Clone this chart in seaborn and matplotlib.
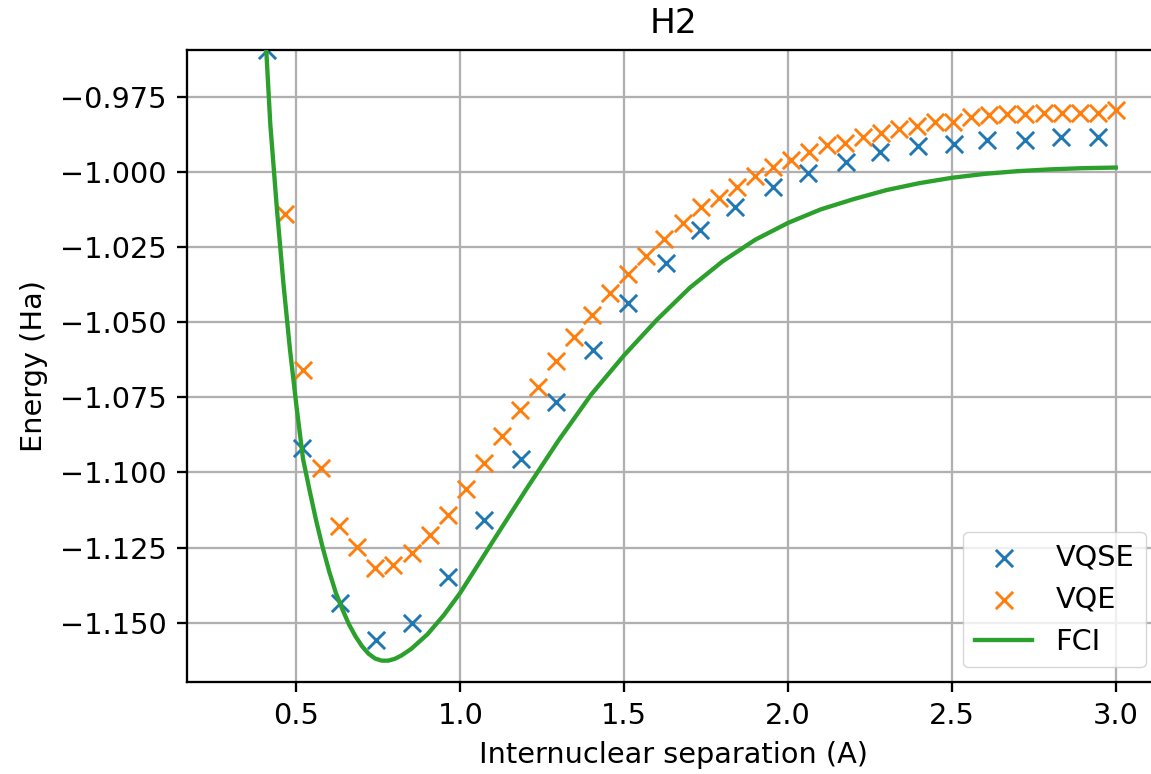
import matplotlib
matplotlib.use("Agg")
import matplotlib.pyplot as plt
import seaborn as sns
import pandas as pd

# ---------------- data ----------------
vqse_x = [0.410, 0.518, 0.634, 0.742, 0.854, 0.963, 1.072, 1.184, 1.291, 1.405,
          1.512, 1.627, 1.731, 1.838, 1.954, 2.061, 2.176, 2.280, 2.397, 2.505,
          2.607, 2.722, 2.832, 2.947]
vqse_y = [-0.9596, -1.0920, -1.1433, -1.1557, -1.1500, -1.1347, -1.1158, -1.0956,
          -1.0765, -1.0593, -1.0435, -1.0302, -1.0194, -1.0118, -1.0049, -1.0003,
          -0.9966, -0.9933, -0.9914, -0.9907, -0.9893, -0.9893, -0.9885, -0.9883]

vqe_x = [0.465, 0.520, 0.576, 0.631, 0.686, 0.741, 0.796, 0.851, 0.906, 0.961,
         1.016, 1.071, 1.127, 1.182, 1.237, 1.292, 1.347, 1.402, 1.457, 1.512,
         1.567, 1.622, 1.678, 1.733, 1.788, 1.843, 1.898, 1.953, 2.008, 2.063,
         2.118, 2.173, 2.229, 2.284, 2.339, 2.394, 2.449, 2.504, 2.559, 2.614,
         2.669, 2.724, 2.780, 2.835, 2.890, 2.945, 3.000]
vqe_y = [-1.0142, -1.0659, -1.0986, -1.1177, -1.1247, -1.1319, -1.1308, -1.1269,
         -1.1208, -1.1140, -1.1055, -1.0969, -1.0879, -1.0792, -1.0715, -1.0629,
         -1.0548, -1.0476, -1.0404, -1.0340, -1.0280, -1.0224, -1.0169, -1.0118,
         -1.0088, -1.0049, -1.0014, -0.9985, -0.9961, -0.9933, -0.9911, -0.9903,
         -0.9883, -0.9872, -0.9858, -0.9847, -0.9836, -0.9834, -0.9818, -0.9812,
         -0.9807, -0.9807, -0.9804, -0.9806, -0.9806, -0.9806, -0.9793]

fci_x = [0.40, 0.42, 0.44, 0.46, 0.48, 0.50, 0.52, 0.54, 0.56, 0.58,
         0.60, 0.62, 0.64, 0.66, 0.68, 0.70, 0.72, 0.74, 0.76, 0.78,
         0.80, 0.82, 0.85, 0.90, 0.95, 1.00, 1.10, 1.20, 1.30, 1.40,
         1.50, 1.60, 1.70, 1.80, 1.90, 2.00, 2.10, 2.20, 2.30, 2.40,
         2.50, 2.60, 2.70, 2.80, 2.90, 3.00]
fci_y = [-0.9440, -0.9840, -1.0120, -1.0370, -1.0590, -1.0780, -1.0955, -1.1060,
         -1.1160, -1.1250, -1.1330, -1.1400, -1.1455, -1.1505, -1.1545, -1.1578,
         -1.1603, -1.1619, -1.1626, -1.1626, -1.1620, -1.1609, -1.1587, -1.1538,
         -1.1474, -1.1400, -1.1228, -1.1058, -1.0893, -1.0740, -1.0610, -1.0492,
         -1.0386, -1.0298, -1.0226, -1.0170, -1.0125, -1.0091, -1.0061, -1.0038,
         -1.0020, -1.0007, -0.9998, -0.9992, -0.9988, -0.9986]

series_labels = ["VQSE", "VQE", "FCI"]
title = "H2"
xlabel = "Internuclear separation (A)"
ylabel = "Energy (Ha)"
xticks = [0.5, 1.0, 1.5, 2.0, 2.5, 3.0]
yticks = [-0.975, -1.000, -1.025, -1.050, -1.075, -1.100, -1.125, -1.150]

# ---------------- style ----------------
k = 2.07  # scale relative to matplotlib defaults
plt.rcParams.update({
    "font.family": ["DejaVu Sans"],
    "font.size": 10 * k,
    "axes.titlesize": 12 * k,
    "axes.labelsize": 10 * k,
    "xtick.labelsize": 10 * k,
    "ytick.labelsize": 10 * k,
    "legend.fontsize": 10 * k,
    "axes.linewidth": 0.8 * k,
    "grid.linewidth": 0.8 * k,
    "grid.color": "#b0b0b0",
    "xtick.major.size": 3.5 * k,
    "ytick.major.size": 3.5 * k,
    "xtick.major.width": 0.8 * k,
    "ytick.major.width": 0.8 * k,
    "xtick.major.pad": 3.5 * k,
    "ytick.major.pad": 3.5 * k,
    "axes.labelpad": 4.0 * k,
    "axes.titlepad": 6.0 * k,
    "lines.linewidth": 1.5 * k,
})

fig = plt.figure(figsize=(11.51, 7.74), dpi=100)
ax = fig.add_axes([186.7 / 1151, (774 - 681.7) / 774,
                   (1160 - 186.7) / 1151, (681.7 - 50) / 774])

df_vqse = pd.DataFrame({"x": vqse_x, "y": vqse_y})
df_vqe = pd.DataFrame({"x": vqe_x, "y": vqe_y})
df_fci = pd.DataFrame({"x": fci_x, "y": fci_y})

sns.scatterplot(data=df_vqse, x="x", y="y", ax=ax, marker="x", color="#1f77b4",
                s=(6 * k) ** 2, linewidth=1.0 * k, label=series_labels[0], zorder=2)
sns.scatterplot(data=df_vqe, x="x", y="y", ax=ax, marker="x", color="#ff7f0e",
                s=(6 * k) ** 2, linewidth=1.0 * k, label=series_labels[1], zorder=2)
sns.lineplot(data=df_fci, x="x", y="y", ax=ax, color="#2ca02c",
             linewidth=1.5 * k, label=series_labels[2], zorder=3, sort=False)

ax.set_xlim(0.165, 3.135)
ax.set_ylim(-1.1696, -0.9595)
ax.set_xticks(xticks)
ax.set_xticklabels([f"{t:.1f}" for t in xticks])
ax.set_yticks(yticks)
ax.set_yticklabels([f"\u2212{abs(t):.3f}" for t in yticks])
ax.grid(True)
ax.set_axisbelow(True)
ax.set_title(title)
ax.set_xlabel(xlabel)
ax.set_ylabel(ylabel)
for s in ax.spines.values():
    s.set_color("black")
ax.spines["right"].set_visible(False)
ax.legend(loc="lower right", borderaxespad=0.5, markerscale=1.0)

fig.savefig("out.png", dpi=100)
